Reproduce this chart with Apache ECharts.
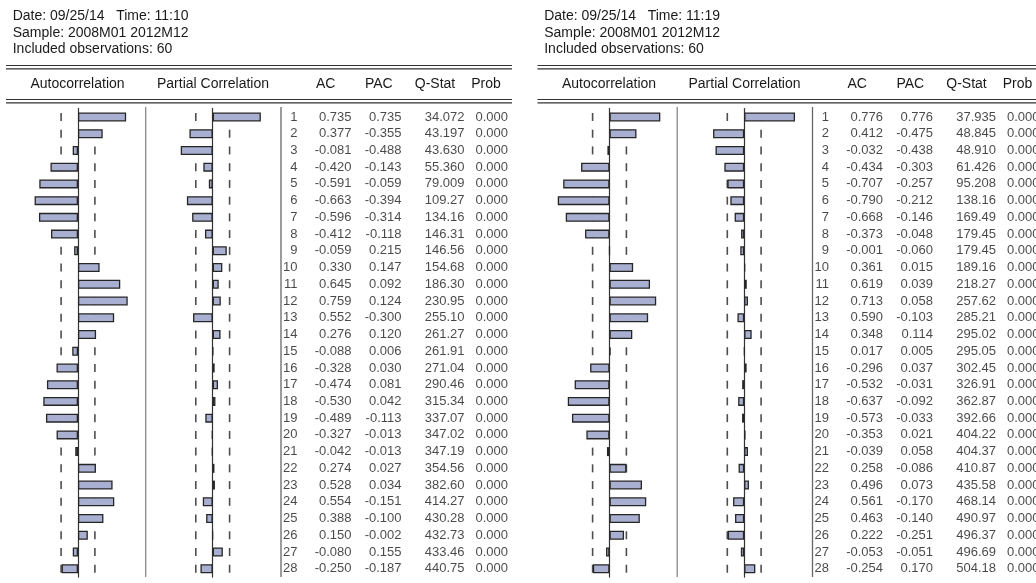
<!DOCTYPE html>
<html><head><meta charset="utf-8">
<script src="https://cdn.jsdelivr.net/npm/echarts@6/dist/echarts.min.js"></script>
<style>html,body{margin:0;padding:0;background:#fff;}#c{width:1036px;height:583px;}</style>
</head><body><div id="c"></div>
<script>
const lags = [1,2,3,4,5,6,7,8,9,10,11,12,13,14,15,16,17,18,19,20,21,22,23,24,25,26,27,28];

const leftAC = [0.735,0.377,-0.081,-0.420,-0.591,-0.663,-0.596,-0.412,-0.059,0.330,0.645,0.759,0.552,0.276,-0.088,-0.328,-0.474,-0.530,-0.489,-0.327,-0.042,0.274,0.528,0.554,0.388,0.150,-0.080,-0.250];
const leftPAC = [0.735,-0.355,-0.488,-0.143,-0.059,-0.394,-0.314,-0.118,0.215,0.147,0.092,0.124,-0.300,0.120,0.006,0.030,0.081,0.042,-0.113,-0.013,-0.013,0.027,0.034,-0.151,-0.100,-0.002,0.155,-0.187];
const leftQ = [34.072,43.197,43.630,55.360,79.009,109.27,134.16,146.31,146.56,154.68,186.30,230.95,255.10,261.27,261.91,271.04,290.46,315.34,337.07,347.02,347.19,354.56,382.60,414.27,430.28,432.73,433.46,440.75];
const leftProb = [0,0,0,0,0,0,0,0,0,0,0,0,0,0,0,0,0,0,0,0,0,0,0,0,0,0,0,0];

const rightAC = [0.776,0.412,-0.032,-0.434,-0.707,-0.790,-0.668,-0.373,-0.001,0.361,0.619,0.713,0.590,0.348,0.017,-0.296,-0.532,-0.637,-0.573,-0.353,-0.039,0.258,0.496,0.561,0.463,0.222,-0.053,-0.254];
const rightPAC = [0.776,-0.475,-0.438,-0.303,-0.257,-0.212,-0.146,-0.048,-0.060,0.015,0.039,0.058,-0.103,0.114,0.005,0.037,-0.031,-0.092,-0.033,0.021,0.058,-0.086,0.073,-0.170,-0.140,-0.251,-0.051,0.170];
const rightQ = [37.935,48.845,48.910,61.426,95.208,138.16,169.49,179.45,179.45,189.16,218.27,257.62,285.21,295.02,295.05,302.45,326.91,362.87,392.66,404.22,404.37,410.87,435.58,468.14,490.97,496.37,496.69,504.18];
const rightProb = [0,0,0,0,0,0,0,0,0,0,0,0,0,0,0,0,0,0,0,0,0,0,0,0,0,0,0,0];

const bandLimit = 0.258;   // approx. 2/sqrt(60)
const leftInfo = ['Date: 09/25/14   Time: 11:10','Sample: 2008M01 2012M12','Included observations: 60'];
const rightInfo = ['Date: 09/25/14   Time: 11:19','Sample: 2008M01 2012M12','Included observations: 60'];
const barHeaders = ['Autocorrelation','Partial Correlation'];
const tableHeaders = ['AC','PAC','Q-Stat','Prob'];

const FONT = '"Liberation Sans", Arial, sans-serif';
const TOP = 108.6, H = 468.5;
const PANEL_DX = 531.5;
const barW = 131;
const TABLE_W = 220;
const panels = [
  {dx:0, ac:leftAC, pac:leftPAC, q:leftQ, p:leftProb, info:leftInfo},
  {dx:PANEL_DX, ac:rightAC, pac:rightPAC, q:rightQ, p:rightProb, info:rightInfo}
];

const grid=[], xAxis=[], yAxis=[], series=[], graphic=[];
function addGrid(left,width,xmin,xmax,zeroLine){
  const idx = grid.length;
  grid.push({left:left, top:TOP, width:width, height:H, containLabel:false});
  xAxis.push({type:'value', gridIndex:idx, min:xmin, max:xmax, show:false});
  yAxis.push({type:'category', gridIndex:idx, data:lags, inverse:true, show:zeroLine,
    axisLine:{show:zeroLine, onZero:true, lineStyle:{color:'#333', width:1.2}},
    axisTick:{show:false}, axisLabel:{show:false}, splitLine:{show:false}});
  return idx;
}
function addBars(idx, values){
  series.push({type:'scatter', xAxisIndex:idx, yAxisIndex:idx, z:2, silent:true,
    symbol:'rect', symbolSize:[1.6,8], itemStyle:{color:'#222'},
    data: lags.map((l,i)=>[bandLimit,i]).concat(lags.map((l,i)=>[-bandLimit,i]))});
  series.push({type:'bar', xAxisIndex:idx, yAxisIndex:idx, z:3, barWidth:9, silent:true,
    itemStyle:{color:'#a8afd0', borderColor:'#262626', borderWidth:1.3},
    data: values});
}
function addText(x,y,text,align,size){
  graphic.push({type:'text', x:x, y:y, style:{text:text, font:size+'px '+FONT, fill:'#1a1a1a', textAlign:align||'left', textVerticalAlign:'middle'}});
}
function hline(x1,x2,y){
  graphic.push({type:'line', shape:{x1:x1,y1:y,x2:x2,y2:y}, style:{stroke:'#333', lineWidth:1.2}});
}
function vline(x,y1,y2,color){
  graphic.push({type:'line', shape:{x1:x,y1:y1,x2:x,y2:y2}, style:{stroke:color, lineWidth:1.3}});
}

panels.forEach(pn=>{
  const dx = pn.dx;
  const gA = addGrid(12.5+dx, barW, -1, 1, true);
  addBars(gA, pn.ac);
  const gP = addGrid(147.2+dx, barW, -1, 1, true);
  addBars(gP, pn.pac);
  const gT = addGrid(281+dx, TABLE_W, 0, TABLE_W, false);
  const cols = [
    {x:17, vals:lags.map(String)},
    {x:71, vals:pn.ac.map(v=>v.toFixed(3))},
    {x:121, vals:pn.pac.map(v=>v.toFixed(3))},
    {x:184, vals:pn.q.map(v=>v.toPrecision(5))},
    {x:227.5, vals:pn.p.map(v=>v.toFixed(3))}
  ];
  cols.forEach(c=>{
    series.push({type:'scatter', xAxisIndex:gT, yAxisIndex:gT, symbolSize:1, silent:true, clip:false,
      itemStyle:{color:'rgba(0,0,0,0)'},
      data: c.vals.map((s,i)=>({value:[c.x,i], name:s})),
      label:{show:true, position:'left', distance:0, formatter:p=>p.name,
        fontFamily:FONT, fontSize:13, color:'#1a1a1a'}});
  });
  pn.info.forEach((t,i)=> addText(12.7+dx, 16+i*16.8, t, 'left', 14));
  hline(6+dx, 512+dx, 65.5); hline(6+dx, 512+dx, 68.8);
  hline(6+dx, 512+dx, 99.5); hline(6+dx, 512+dx, 102.8);
  addText(77.5+dx, 84, barHeaders[0], 'center', 14);
  addText(213+dx, 84, barHeaders[1], 'center', 14);
  const hx = [325.7, 378.8, 435, 486];
  tableHeaders.forEach((t,i)=> addText(hx[i]+dx, 84, t, 'center', 14));
  vline(145.7+dx, 107, 577, '#888');
  vline(281+dx, 107, 577, '#666');
});

const chart = echarts.init(document.getElementById('c'), null, {renderer:'canvas'});
chart.setOption({animation:false, backgroundColor:'#fff', grid, xAxis, yAxis, series, graphic});
</script></body></html>
